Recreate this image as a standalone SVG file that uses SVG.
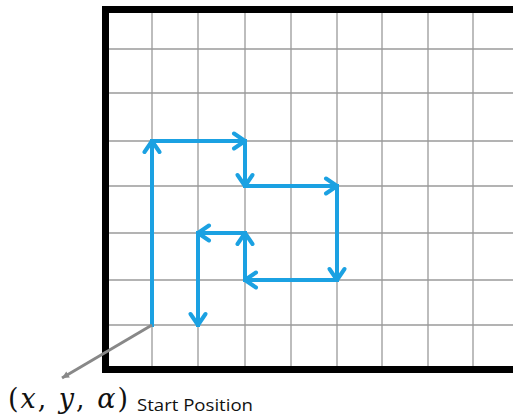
<svg xmlns="http://www.w3.org/2000/svg" width="513" height="418" viewBox="0 0 513 418">
<style>
.grid line{stroke:#9a9a9a;stroke-width:1.3}
.border{stroke:#000;stroke-width:7;fill:none}
.path line{stroke:#1ba1e2;stroke-width:4;stroke-linecap:square;marker-end:url(#chev)}
.lbl{font-family:"Open Sans","Liberation Sans",sans-serif;font-size:16px;fill:#111}
</style>
<defs>
<marker id="chev" markerUnits="userSpaceOnUse" viewBox="-16 -10 20 20" refX="0" refY="0" markerWidth="20" markerHeight="20" orient="auto">
<path d="M-11,-7.5 L0,0 L-11,7.5" fill="none" stroke="#1ba1e2" stroke-width="4" stroke-linecap="round" stroke-linejoin="round"/>
</marker>
<marker id="ptr" markerUnits="userSpaceOnUse" viewBox="-8 -5 10 10" refX="0" refY="0" markerWidth="10" markerHeight="10" orient="auto">
<path d="M-7,-3.5 L0,0 L-7,3.5 Z" fill="#888"/>
</marker>
</defs>
<rect width="513" height="418" fill="#fff"/>
<g id="grid" class="grid">
<line x1="152" y1="13" x2="152" y2="366"/>
<line x1="198" y1="13" x2="198" y2="366"/>
<line x1="245" y1="13" x2="245" y2="366"/>
<line x1="291" y1="13" x2="291" y2="366"/>
<line x1="337" y1="13" x2="337" y2="366"/>
<line x1="382" y1="13" x2="382" y2="366"/>
<line x1="428" y1="13" x2="428" y2="366"/>
<line x1="473" y1="13" x2="473" y2="366"/>
<line x1="109" y1="49" x2="513" y2="49"/>
<line x1="109" y1="93" x2="513" y2="93"/>
<line x1="109" y1="141" x2="513" y2="141"/>
<line x1="109" y1="186" x2="513" y2="186"/>
<line x1="109" y1="233" x2="513" y2="233"/>
<line x1="109" y1="280" x2="513" y2="280"/>
<line x1="109" y1="325" x2="513" y2="325"/>
</g>
<g id="frame">
<path class="border" d="M520,9.5 H105.5 V369.5 H520"/>
</g>
<g id="connectors">
<g class="path">
<line x1="152" y1="325" x2="152" y2="141"/>
<line x1="152" y1="141" x2="245" y2="141"/>
<line x1="245" y1="141" x2="245" y2="186"/>
<line x1="245" y1="186" x2="337" y2="186"/>
<line x1="337" y1="186" x2="337" y2="280"/>
<line x1="337" y1="280" x2="245" y2="280"/>
<line x1="245" y1="280" x2="245" y2="233"/>
<line x1="245" y1="233" x2="198" y2="233"/>
<line x1="198" y1="233" x2="198" y2="325"/>
</g>
<line x1="152" y1="325" x2="62" y2="378" stroke="#888" stroke-width="3" marker-end="url(#ptr)"/>
</g>
<g id="start-label">
<text x="8" y="408" font-family="DejaVu Serif, serif" font-size="27" fill="#111" textLength="120" lengthAdjust="spacing">(<tspan font-style="italic">x</tspan>, <tspan font-style="italic">y</tspan>, <tspan font-style="italic">α</tspan>)</text>
<text class="lbl" x="137" y="411" textLength="116" lengthAdjust="spacingAndGlyphs">Start Position</text>
</g>
</svg>
